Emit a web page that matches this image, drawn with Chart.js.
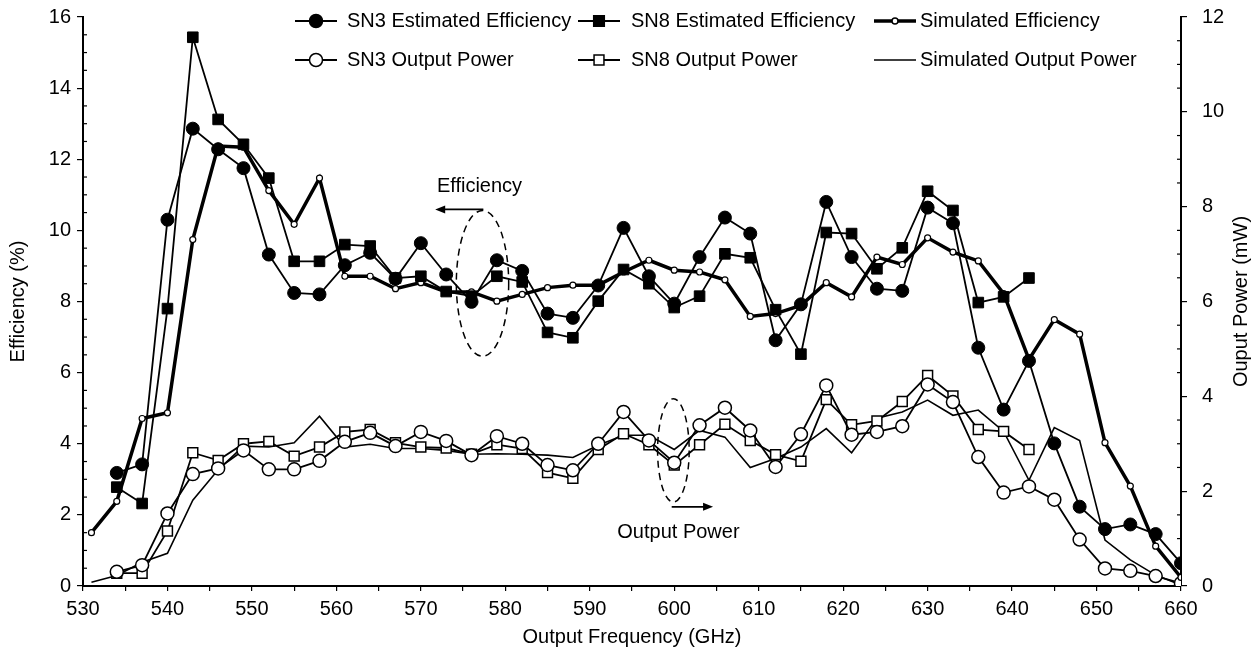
<!DOCTYPE html>
<html>
<head>
    <title>Efficiency and Output Power</title>
    <script src="https://cdn.jsdelivr.net/npm/chart.js"></script>
    <style>
        body { margin: 0; background: #fff; }
    </style>
</head>
<body>
<canvas id="effChart" width="1257" height="652"></canvas>

<script>
    // output frequency (GHz)
    const freqs = [531, 534, 537, 540, 543, 546, 549, 552, 555, 558, 561, 564, 567, 570, 573,
        576, 579, 582, 585, 588, 591, 594, 597, 600, 603, 606, 609, 612, 615, 618,
        621, 624, 627, 630, 633, 636, 639, 642, 645, 648, 651, 654, 657, 660];

    // efficiency (%) - left axis
    const sn3Eff = [null, 3.18, 3.42, 10.3, 12.86, 12.28, 11.75, 9.32, 8.24, 8.2, 9.02, 9.37, 8.64, 9.64, 8.76,
        7.99, 9.16, 8.86, 7.66, 7.54, 8.45, 10.07, 8.71, 7.94, 9.25, 10.36, 9.91, 6.91, 7.92, 10.8,
        9.25, 8.36, 8.3, 10.64, 10.2, 6.7, 4.96, 6.33, 4.01, 2.23, 1.6, 1.73, 1.46, 0.64];
    const sn8Eff = [null, 2.78, 2.32, 7.8, 15.43, 13.12, 12.42, 11.47, 9.13, 9.13, 9.6, 9.56, 8.66, 8.71, 8.28,
        8.15, 8.71, 8.55, 7.13, 6.98, 8.01, 8.9, 8.5, 7.83, 8.15, 9.34, 9.23, 7.77, 6.52, 9.94,
        9.91, 8.92, 9.51, 11.1, 10.56, 7.97, 8.13, 8.66, null, null, null, null, null, null];
    const simEff = [1.5, 2.38, 4.71, 4.87, 9.74, 12.37, 12.34, 11.12, 10.17, 11.47, 8.71, 8.71, 8.36, 8.53, 8.27,
        8.27, 8.01, 8.2, 8.39, 8.46, 8.46, 8.83, 9.16, 8.88, 8.83, 8.61, 7.58, 7.66, 7.89, 8.53,
        8.13, 9.25, 9.04, 9.79, 9.39, 9.14, 8.22, 6.37, 7.49, 7.08, 4.03, 2.81, 1.12, 0.24];

    // output power (mW) - right axis
    const sn3Pow = [null, 0.30, 0.44, 1.53, 2.36, 2.48, 2.86, 2.46, 2.46, 2.64, 3.04, 3.23, 2.95, 3.25, 3.06,
        2.76, 3.16, 3.0, 2.55, 2.44, 3.0, 3.67, 3.07, 2.6, 3.39, 3.76, 3.28, 2.51, 3.2, 4.23,
        3.19, 3.25, 3.37, 4.25, 3.88, 2.72, 1.97, 2.1, 1.82, 0.98, 0.37, 0.32, 0.21, 0.06];
    const sn8Pow = [null, 0.27, 0.27, 1.16, 2.81, 2.65, 3.0, 3.05, 2.74, 2.93, 3.25, 3.3, 3.02, 2.93, 2.91,
        2.78, 2.98, 2.9, 2.39, 2.27, 2.88, 3.21, 2.98, 2.55, 2.98, 3.41, 3.07, 2.77, 2.63, 3.93,
        3.4, 3.48, 3.89, 4.44, 4.01, 3.3, 3.26, 2.88, null, null, null, null, null, null];
    const simPow = [0.08, 0.22, 0.5, 0.69, 1.81, 2.45, 2.95, 2.93, 3.02, 3.58, 2.93, 2.99, 2.9, 2.9, 2.86,
        2.78, 2.79, 2.78, 2.76, 2.71, 2.97, 3.18, 3.18, 2.88, 3.28, 3.14, 2.5, 2.69, 2.93, 3.32,
        2.81, 3.54, 3.67, 3.92, 3.6, 3.71, 3.26, 2.23, 3.34, 3.07, 0.97, 0.55, 0.23, 0.02];

    const FONT = "'Liberation Sans', Arial, sans-serif";
    Chart.defaults.font.family = FONT;
    Chart.defaults.font.size = 20;
    Chart.defaults.color = '#000';

    function pts(arr) {
        return freqs.map((f, i) => ({x: f, y: arr[i]}));
    }

    // marker drawing shared by legend
    function drawMarker(ctx, style, r, fill, x, y) {
        ctx.save();
        ctx.fillStyle = fill;
        ctx.strokeStyle = '#000';
        ctx.lineWidth = 1.5;
        ctx.beginPath();
        if (style === 'rect') {
            const s = r * Math.SQRT1_2;
            ctx.rect(x - s, y - s, 2 * s, 2 * s);
        } else {
            ctx.arc(x, y, r, 0, Math.PI * 2);
        }
        ctx.fill();
        ctx.stroke();
        ctx.restore();
    }

    const legendPlugin = {
        id: 'legendBox',
        afterDraw(chart) {
            const ctx = chart.ctx;
            const cols = [{line: 295, text: 347}, {line: 578, text: 631}, {line: 874, text: 920}];
            const rows = [21, 60];
            chart.data.datasets.forEach((ds, k) => {
                const col = cols[k % 3];
                const y = rows[Math.floor(k / 3)];
                const w = 42;
                ctx.save();
                ctx.strokeStyle = '#000';
                ctx.lineWidth = ds.borderWidth;
                ctx.beginPath();
                ctx.moveTo(col.line, y);
                ctx.lineTo(col.line + w, y);
                ctx.stroke();
                ctx.restore();
                if (ds.pointRadius > 0) {
                    drawMarker(ctx, ds.pointStyle, ds.pointRadius, ds.pointBackgroundColor, col.line + w / 2, y);
                }
                ctx.save();
                ctx.fillStyle = '#000';
                ctx.font = '20px ' + FONT;
                ctx.textBaseline = 'middle';
                ctx.fillText(ds.label, col.text, y);
                ctx.restore();
            });

            // right axis title, reading bottom to top
            const area = chart.chartArea;
            ctx.save();
            ctx.translate(1241, (area.top + area.bottom) / 2);
            ctx.rotate(-Math.PI / 2);
            ctx.fillStyle = '#000';
            ctx.font = '20px ' + FONT;
            ctx.textAlign = 'center';
            ctx.textBaseline = 'middle';
            ctx.fillText('Ouput Power (mW)', 0, 0);
            ctx.restore();
        }
    };

    // minor ticks on the value axes, pointing inwards
    const minorTicks = {
        id: 'minorTicks',
        afterDraw(chart) {
            const ctx = chart.ctx;
            ctx.save();
            ctx.strokeStyle = '#000';
            ctx.lineWidth = 1.2;
            ['yL', 'yR'].forEach(id => {
                const sc = chart.scales[id];
                const x0 = id === 'yL' ? sc.right : sc.left;
                const dir = id === 'yL' ? 1 : -1;
                for (let v = sc.min; v <= sc.max; v += 0.5) {
                    if (v % 2 === 0) continue;
                    const y = sc.getPixelForValue(v);
                    ctx.beginPath();
                    ctx.moveTo(x0, y);
                    ctx.lineTo(x0 + dir * 4, y);
                    ctx.stroke();
                }
            });
            ctx.restore();
        }
    };

    // dashed ellipses, arrows and labels
    const notes = {
        id: 'notes',
        afterDraw(chart) {
            const ctx = chart.ctx;
            const xs = chart.scales.x, yl = chart.scales.yL, yr = chart.scales.yR;

            function ellipse(sy, cx, cy, rx, ry) {
                const px = xs.getPixelForValue(cx), py = sy.getPixelForValue(cy);
                const prx = Math.abs(xs.getPixelForValue(cx + rx) - px);
                const pry = Math.abs(sy.getPixelForValue(cy + ry) - py);
                ctx.save();
                ctx.setLineDash([7, 5]);
                ctx.lineWidth = 1.5;
                ctx.strokeStyle = '#000';
                ctx.beginPath();
                ctx.ellipse(px, py, prx, pry, 0, 0, Math.PI * 2);
                ctx.stroke();
                ctx.restore();
            }

            function arrow(sy, x1, x2, yv) {
                const a = xs.getPixelForValue(x1), b = xs.getPixelForValue(x2), y = sy.getPixelForValue(yv);
                const d = b > a ? 1 : -1;
                ctx.save();
                ctx.strokeStyle = '#000';
                ctx.fillStyle = '#000';
                ctx.lineWidth = 1.8;
                ctx.beginPath();
                ctx.moveTo(a, y);
                ctx.lineTo(b - d * 6, y);
                ctx.stroke();
                ctx.beginPath();
                ctx.moveTo(b, y);
                ctx.lineTo(b - d * 10, y - 4);
                ctx.lineTo(b - d * 10, y + 4);
                ctx.closePath();
                ctx.fill();
                ctx.restore();
            }

            function label(sy, text, xv, yv, align) {
                ctx.save();
                ctx.fillStyle = '#000';
                ctx.font = '20px ' + FONT;
                ctx.textAlign = align;
                ctx.textBaseline = 'middle';
                ctx.fillText(text, xs.getPixelForValue(xv), sy.getPixelForValue(yv));
                ctx.restore();
            }

            ellipse(yl, 577.3, 8.51, 3.1, 2.05);
            arrow(yl, 577.4, 571.7, 10.59);
            label(yl, 'Efficiency', 571.9, 11.24, 'left');

            ellipse(yr, 599.9, 2.86, 1.87, 1.09);
            arrow(yr, 599.7, 604.6, 1.67);
            label(yr, 'Output Power', 600.5, 1.12, 'center');
        }
    };

    const tickFont = {size: 20, family: FONT};

    // fixed box sizes so the plot area lands where the original one is
    function fitY(w) {
        return (s) => { s.width = w; s.paddingTop = 0; s.paddingBottom = 0; };
    }

    new Chart(document.getElementById('effChart').getContext('2d'), {
        type: 'line',
        data: {
            datasets: [
                {
                    label: 'SN3 Estimated Efficiency', data: pts(sn3Eff), yAxisID: 'yL',
                    borderColor: '#000', borderWidth: 1.8, pointStyle: 'circle', pointRadius: 6.5,
                    pointBackgroundColor: '#000', pointBorderColor: '#000', pointBorderWidth: 1
                },
                {
                    label: 'SN8 Estimated Efficiency', data: pts(sn8Eff), yAxisID: 'yL',
                    borderColor: '#000', borderWidth: 1.8, pointStyle: 'rect', pointRadius: 7.5,
                    pointBackgroundColor: '#000', pointBorderColor: '#000', pointBorderWidth: 1
                },
                {
                    label: 'Simulated Efficiency', data: pts(simEff), yAxisID: 'yL',
                    borderColor: '#000', borderWidth: 3.5, pointStyle: 'circle', pointRadius: 3,
                    pointBackgroundColor: '#fff', pointBorderColor: '#000', pointBorderWidth: 1.2
                },
                {
                    label: 'SN3 Output Power', data: pts(sn3Pow), yAxisID: 'yR',
                    borderColor: '#000', borderWidth: 1.8, pointStyle: 'circle', pointRadius: 6.5,
                    pointBackgroundColor: '#fff', pointBorderColor: '#000', pointBorderWidth: 1.5
                },
                {
                    label: 'SN8 Output Power', data: pts(sn8Pow), yAxisID: 'yR',
                    borderColor: '#000', borderWidth: 1.8, pointStyle: 'rect', pointRadius: 7,
                    pointBackgroundColor: '#fff', pointBorderColor: '#000', pointBorderWidth: 1.5
                },
                {
                    label: 'Simulated Output Power', data: pts(simPow), yAxisID: 'yR',
                    borderColor: '#000', borderWidth: 1.6, pointRadius: 0
                }
            ]
        },
        options: {
            responsive: false,
            animation: false,
            devicePixelRatio: 1,
            layout: {padding: {top: 17, left: 0, right: 0, bottom: 0}},
            plugins: {
                legend: {display: false},
                tooltip: {enabled: false}
            },
            scales: {
                x: {
                    type: 'linear', min: 530, max: 660,
                    afterFit: (s) => { s.height = 66; },
                    ticks: {
                        stepSize: 5, autoSkip: false, maxRotation: 0, padding: 6, font: tickFont,
                        callback: (v) => (v % 10 === 0 ? v : '')
                    },
                    grid: {drawOnChartArea: false, color: '#000', tickLength: 5, lineWidth: 1.2},
                    border: {color: '#000', width: 2},
                    title: {display: true, text: 'Output Frequency (GHz)', font: tickFont, padding: {top: 0, bottom: 3}}
                },
                yL: {
                    position: 'left', min: 0, max: 16,
                    afterFit: fitY(83),
                    ticks: {stepSize: 2, padding: 6, font: tickFont},
                    grid: {drawOnChartArea: false, color: '#000', tickLength: 6, lineWidth: 1.2},
                    border: {color: '#000', width: 2},
                    title: {display: true, text: 'Efficiency (%)', font: tickFont, padding: {top: 6, bottom: 0}}
                },
                yR: {
                    position: 'right', min: 0, max: 12,
                    afterFit: fitY(76),
                    ticks: {stepSize: 2, padding: 15, font: tickFont},
                    grid: {drawOnChartArea: false, color: '#000', tickLength: 6, lineWidth: 1.2},
                    border: {color: '#000', width: 2},
                    title: {display: false, text: 'Ouput Power (mW)'}
                }
            }
        },
        plugins: [minorTicks, notes, legendPlugin]
    });
</script>
</body>
</html>
